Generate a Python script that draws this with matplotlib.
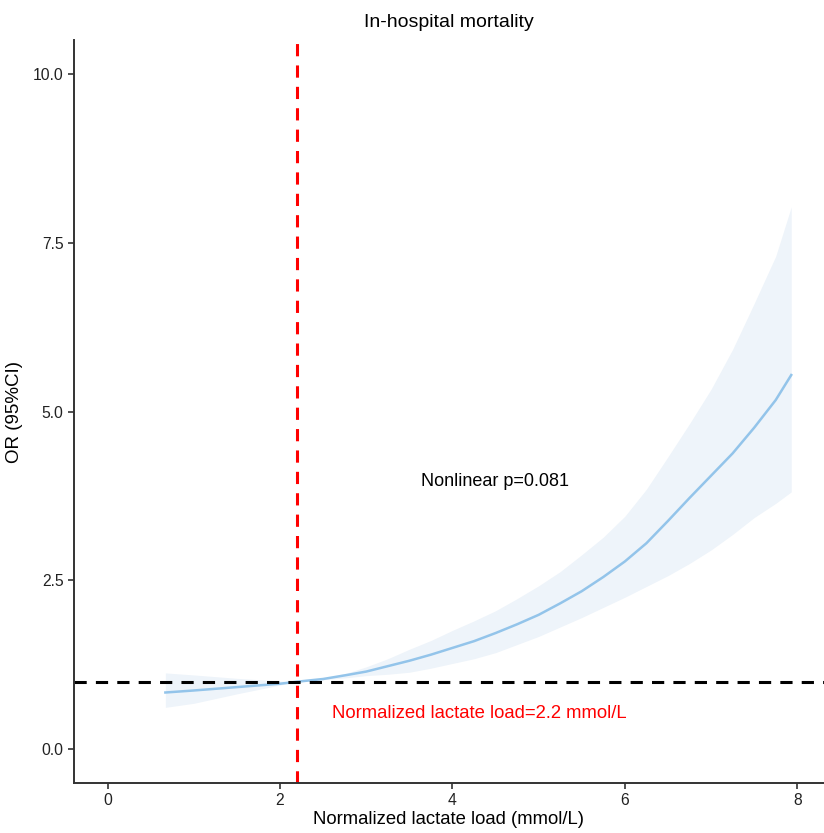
import matplotlib
matplotlib.use("Agg")
import matplotlib.pyplot as plt

plt.rcParams['font.family'] = ['Liberation Sans', 'DejaVu Sans']

x_vals = [0.67, 1.0, 1.5, 2.0, 2.2, 2.5, 2.78, 3.0, 3.25, 3.5, 3.75, 4.0, 4.25, 4.5, 4.75,
          5.0, 5.25, 5.5, 5.75, 6.0, 6.25, 6.5, 6.75, 7.0, 7.25, 7.5, 7.75, 7.93]
or_vals = [0.84, 0.87, 0.92, 0.97, 1.00, 1.04, 1.10, 1.15, 1.23, 1.31, 1.40, 1.50, 1.60, 1.72, 1.85,
           1.99, 2.16, 2.34, 2.55, 2.78, 3.05, 3.38, 3.72, 4.05, 4.38, 4.76, 5.17, 5.54]
upper_vals = [1.13, 1.10, 1.05, 1.01, 1.00, 1.05, 1.13, 1.22, 1.34, 1.48, 1.61, 1.76, 1.90, 2.05, 2.23,
              2.42, 2.63, 2.88, 3.14, 3.45, 3.85, 4.33, 4.82, 5.33, 5.92, 6.60, 7.30, 8.03]
lower_vals = [0.62, 0.68, 0.82, 0.95, 1.00, 1.03, 1.06, 1.09, 1.11, 1.14, 1.20, 1.27, 1.34, 1.43, 1.55,
              1.67, 1.81, 1.95, 2.10, 2.25, 2.41, 2.57, 2.75, 2.95, 3.18, 3.43, 3.64, 3.81]

cutoff = 2.2
ref_or = 1.0
xticks = [0, 2, 4, 6, 8]
yticks = [0.0, 2.5, 5.0, 7.5, 10.0]
ytick_labels = ["0.0", "2.5", "5.0", "7.5", "10.0"]

fig = plt.figure(figsize=(8.24, 8.33), dpi=100)
ax = fig.add_axes([0.0898, 0.06, 0.9102, 0.892])

ax.fill_between(x_vals, lower_vals, upper_vals, color='#eef4fa', linewidth=0)
ax.plot(x_vals, or_vals, color='#93c4ea', linewidth=1.8)
ax.axhline(ref_or, color='black', linestyle=(0, (4, 3)), linewidth=2.2)
ax.axvline(cutoff, color='#ff0000', linestyle=(0, (4, 3)), linewidth=2.2)

ax.text(4.49, 3.96, "Nonlinear p=0.081", ha='center', va='center', fontsize=13, color='black')
ax.text(4.31, 0.53, "Normalized lactate load=2.2 mmol/L", ha='center', va='center', fontsize=13.3, color='#ff0000')

ax.set_xlim(-0.39, 8.31)
ax.set_ylim(-0.5, 10.5)
ax.set_xticks(xticks)
ax.set_yticks(yticks)
ax.set_yticklabels(ytick_labels)
ax.tick_params(labelsize=11.3, colors='#333333', length=4, width=1.2, labelcolor='#222222')

for s in ['top', 'right']:
    ax.spines[s].set_visible(False)
for s in ['left', 'bottom']:
    ax.spines[s].set_color('#333333')
    ax.spines[s].set_linewidth(1.4)

ax.set_xlabel("Normalized lactate load (mmol/L)", fontsize=13.3, labelpad=2)
ax.set_ylabel("OR (95%CI)", fontsize=13.5, labelpad=7)
ax.set_title("In-hospital mortality", fontsize=14, pad=9)

fig.savefig("out.png", dpi=100)
